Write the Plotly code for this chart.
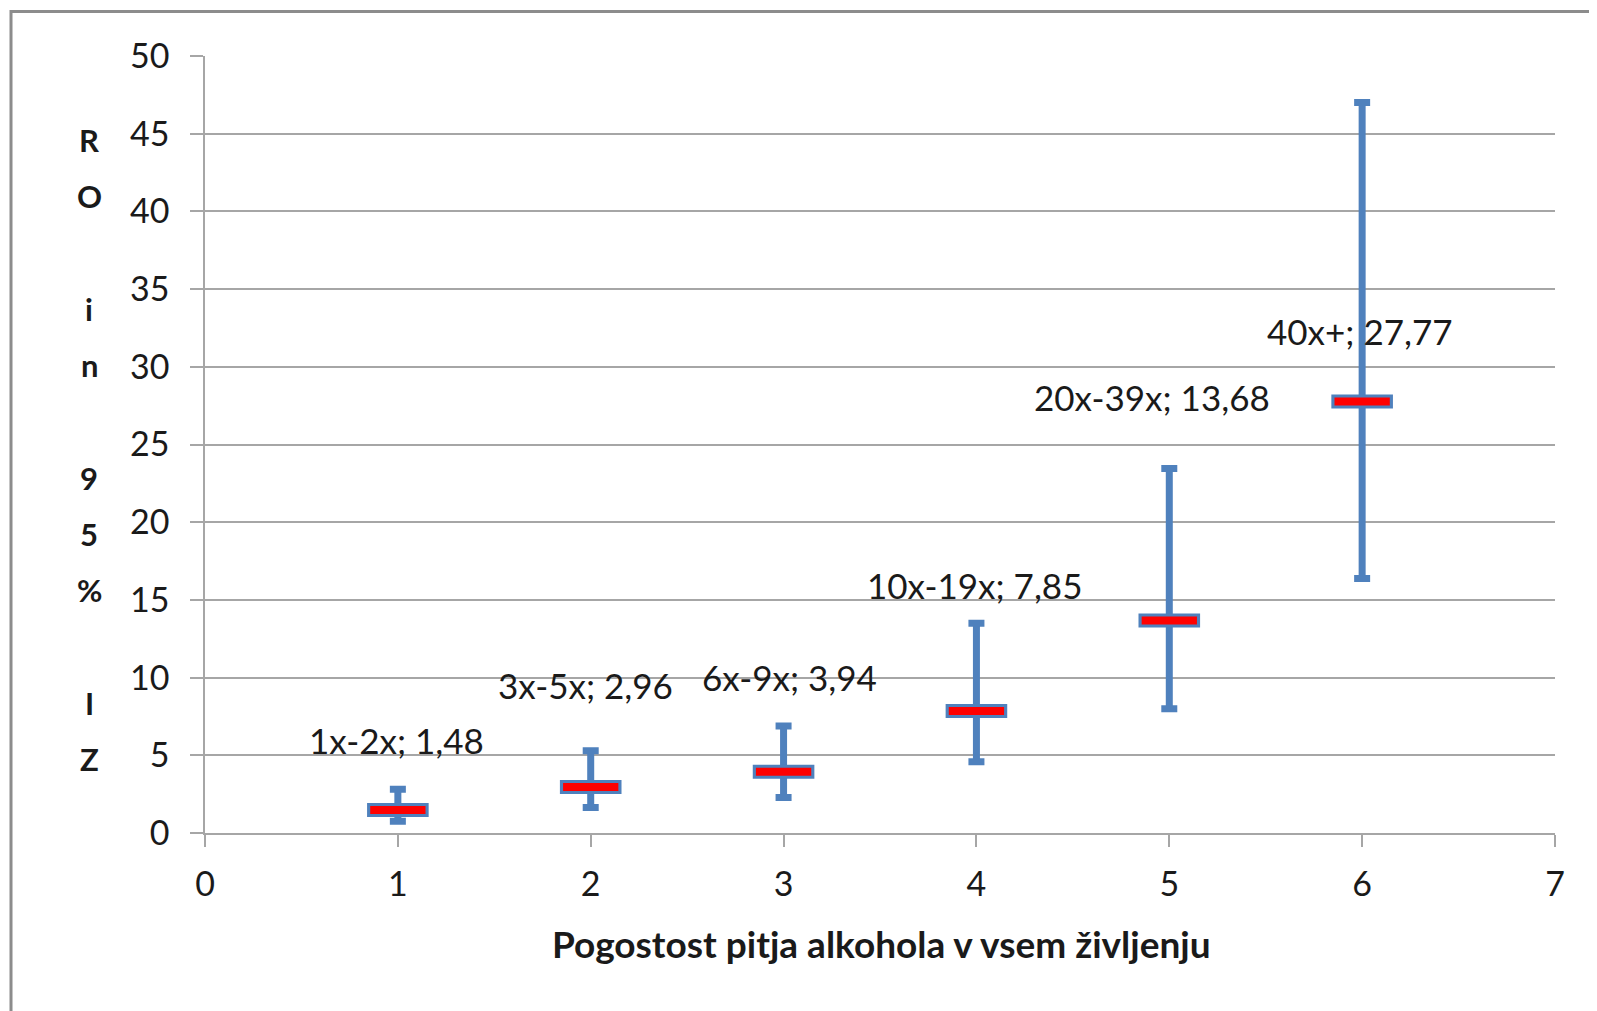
import plotly.graph_objects as go

# ---- data ----
categories = ["1x-2x", "3x-5x", "6x-9x", "10x-19x", "20x-39x", "40x+"]
x_pos = [1, 2, 3, 4, 5, 6]
odds_ratio = [1.48, 2.96, 3.94, 7.85, 13.68, 27.77]
ci_low = [0.75, 1.64, 2.29, 4.59, 8.0, 16.38]
ci_high = [2.82, 5.30, 6.88, 13.50, 23.46, 47.0]
x_ticks = [0, 1, 2, 3, 4, 5, 6, 7]
y_ticks = [0, 5, 10, 15, 20, 25, 30, 35, 40, 45, 50]
x_title = "Pogostost pitja alkohola v vsem življenju"
y_title = "RO in 95% IZ"

# ---- placement of data labels (layout, not data) ----
label_dx = [-0.005, -0.025, 0.03, -0.01, -0.09, -0.01]
label_y = [5.98, 9.52, 10.04, 15.96, 28.06, 32.3]

BLUE = "#4F81BD"
RED = "#FF0000"
FONT = "Lato"
TXT = "#1a1a1a"
GRID = "#A6A6A6"

OFF = 8  # browser body margin
W, H = 1597 - OFF, 1011 - OFF
ML, MT = 205 - OFF, 56 - OFF
MR = W - (1555 - OFF)
MB = H - (833 - OFF)
PW, PH = W - ML - MR, H - MT - MB


def px_x(px):
    return (px - OFF - ML) / PW


def px_y(py):
    return (MT + PH - (py - OFF)) / PH


err_plus = [h - v for h, v in zip(ci_high, odds_ratio)]
err_minus = [v - l for v, l in zip(odds_ratio, ci_low)]

fig = go.Figure()
fig.add_trace(go.Scatter(
    x=x_pos, y=odds_ratio, mode="markers",
    marker=dict(symbol="line-ew-open", size=44, color=BLUE,
                line=dict(color=BLUE, width=14)),
    error_y=dict(type="data", symmetric=False, array=err_plus,
                 arrayminus=err_minus, color=BLUE, thickness=7, width=8),
    showlegend=False, hoverinfo="skip",
))
fig.add_trace(go.Scatter(
    x=x_pos, y=odds_ratio, mode="markers",
    marker=dict(symbol="line-ew-open", size=39.5, color=RED,
                line=dict(color=RED, width=8)),
    showlegend=False, hoverinfo="skip",
))

annotations = []
for xi, dx, ly, cat, v in zip(x_pos, label_dx, label_y, categories, odds_ratio):
    annotations.append(dict(
        x=xi + dx, y=ly, xref="x", yref="y", showarrow=False,
        text=f"{cat}; {v:.2f}".replace(".", ","),
        font=dict(family=FONT, size=35, color=TXT),
        xanchor="center", yanchor="middle",
    ))

# stacked vertical y-axis title
top_px, step_px = 140, 56.3
for i, ch in enumerate(y_title):
    if ch == " ":
        continue
    py = top_px + step_px * i
    annotations.append(dict(
        x=px_x(89), y=px_y(py), xref="paper", yref="paper",
        showarrow=False, text=f"<b>{ch}</b>",
        font=dict(family=FONT, size=31, color=TXT),
        xanchor="center", yanchor="middle",
    ))

annotations.append(dict(
    x=px_x(881), y=px_y(943), xref="paper", yref="paper",
    showarrow=False, text=f"<b>{x_title}</b>",
    font=dict(family=FONT, size=37, color=TXT),
    xanchor="center", yanchor="middle",
))

fig.update_layout(
    width=W, height=H,
    margin=dict(l=ML, r=MR, t=MT, b=MB, autoexpand=False),
    paper_bgcolor="white", plot_bgcolor="white",
    annotations=annotations,
    shapes=[dict(type="rect", xref="paper", yref="paper",
                 x0=px_x(11), x1=px_x(1700),
                 y0=px_y(1100), y1=px_y(11.5),
                 line=dict(color="#8C8C8C", width=3), fillcolor="rgba(0,0,0,0)",
                 layer="below")],
    xaxis=dict(range=[0, 7], tickmode="array", tickvals=x_ticks,
               showgrid=False, zeroline=False, showline=True,
               linecolor=GRID, linewidth=1.5, ticks="outside", ticklen=12,
               tickcolor=GRID, tickwidth=1.5,
               tickfont=dict(family=FONT, size=34, color=TXT),
               ticklabelstandoff=8),
    yaxis=dict(range=[0, 50], tickmode="array", tickvals=y_ticks,
               showgrid=True, gridcolor=GRID, gridwidth=1.5, zeroline=False,
               showline=True, linecolor=GRID, linewidth=1.5,
               ticks="outside", ticklen=13, tickcolor=GRID, tickwidth=1.5,
               tickfont=dict(family=FONT, size=34, color=TXT),
               ticklabelstandoff=14),
)

fig.write_html("out.html")
